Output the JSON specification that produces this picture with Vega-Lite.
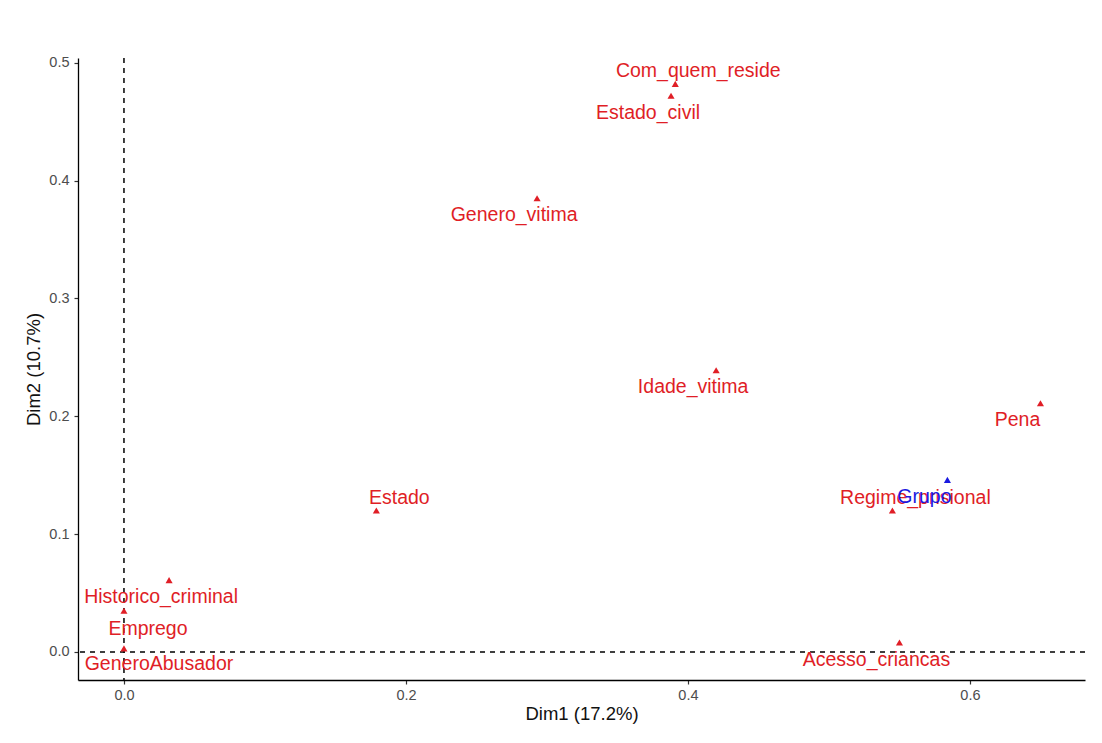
{
  "$schema": "https://vega.github.io/schema/vega-lite/v6.json",
  "autosize": "none",
  "width": 1007,
  "height": 622,
  "padding": {"left": 78, "top": 58, "right": 17, "bottom": 63},
  "background": "white",
  "config": {
    "view": {"stroke": null},
    "font": "Liberation Sans",
    "axis": {
      "grid": false,
      "domainColor": "black",
      "domainWidth": 1.3,
      "tickColor": "#333333",
      "tickSize": 4,
      "tickWidth": 1.2,
      "labelColor": "#4d4d4d",
      "labelFontSize": 14.5,
      "labelFont": "Liberation Sans",
      "titleFont": "Liberation Sans",
      "titleFontSize": 18.5,
      "titleFontWeight": "normal",
      "titleColor": "#111111"
    }
  },
  "datasets": {
    "vars": [
      {"name": "Com_quem_reside", "Dim1": 0.391, "Dim2": 0.482, "grp": "var", "pos": "ur"},
      {"name": "Estado_civil", "Dim1": 0.388, "Dim2": 0.472, "grp": "var", "pos": "dl"},
      {"name": "Genero_vitima", "Dim1": 0.293, "Dim2": 0.385, "grp": "var", "pos": "dl"},
      {"name": "Idade_vitima", "Dim1": 0.42, "Dim2": 0.239, "grp": "var", "pos": "dl"},
      {"name": "Pena", "Dim1": 0.65, "Dim2": 0.211, "grp": "var", "pos": "dl"},
      {"name": "Regime_prisional", "Dim1": 0.545, "Dim2": 0.12, "grp": "var", "pos": "ur"},
      {"name": "Estado", "Dim1": 0.179, "Dim2": 0.12, "grp": "var", "pos": "ur"},
      {"name": "Historico_criminal", "Dim1": 0.032, "Dim2": 0.061, "grp": "var", "pos": "d"},
      {"name": "Emprego", "Dim1": 0.0, "Dim2": 0.035, "grp": "var", "pos": "dr"},
      {"name": "GeneroAbusador", "Dim1": 0.0, "Dim2": 0.003, "grp": "var", "pos": "drr"},
      {"name": "Acesso_criancas", "Dim1": 0.55, "Dim2": 0.008, "grp": "var", "pos": "dl"},
      {"name": "Grupo", "Dim1": 0.584, "Dim2": 0.146, "grp": "sup", "pos": "dl"}
    ],
    "origin": [{"v": 0}]
  },
  "layer": [
    {
      "data": {"name": "origin"},
      "mark": {"type": "rule", "color": "black", "strokeDash": [5, 5], "strokeWidth": 1.5},
      "encoding": {"x": {"field": "v", "type": "quantitative"}}
    },
    {
      "data": {"name": "origin"},
      "mark": {"type": "rule", "color": "black", "strokeDash": [5, 5], "strokeWidth": 1.5},
      "encoding": {"y": {"field": "v", "type": "quantitative"}}
    },
    {
      "data": {"name": "vars"},
      "mark": {"type": "point", "shape": "triangle-up", "filled": true, "size": 50, "opacity": 1},
      "encoding": {
        "x": {
          "field": "Dim1", "type": "quantitative",
          "scale": {"domain": [-0.0326, 0.6816], "nice": false, "zero": false},
          "axis": {"title": "Dim1 (17.2%)", "values": [0, 0.2, 0.4, 0.6], "format": ".1f", "titlePadding": 3, "labelPadding": 4}
        },
        "y": {
          "field": "Dim2", "type": "quantitative",
          "scale": {"domain": [-0.0238, 0.504], "nice": false, "zero": false},
          "axis": {"title": "Dim2 (10.7%)", "values": [0, 0.1, 0.2, 0.3, 0.4, 0.5], "format": ".1f", "titlePadding": 5, "labelPadding": 5}
        },
        "color": {
          "field": "grp", "type": "nominal",
          "scale": {"domain": ["var", "sup"], "range": ["#e01e26", "#1a1ae0"]},
          "legend": null
        }
      }
    },
    {
      "data": {"name": "vars"},
      "transform": [{"filter": "datum.pos === 'ur'"}],
      "mark": {"type": "text", "fontSize": 19.5, "align": "center", "baseline": "middle", "dx": 23, "dy": -13},
      "encoding": {
        "x": {"field": "Dim1", "type": "quantitative"},
        "y": {"field": "Dim2", "type": "quantitative"},
        "text": {"field": "name"},
        "color": {"field": "grp", "type": "nominal"}
      }
    },
    {
      "data": {"name": "vars"},
      "transform": [{"filter": "datum.pos === 'dl'"}],
      "mark": {"type": "text", "fontSize": 19.5, "align": "center", "baseline": "middle", "dx": -23, "dy": 17},
      "encoding": {
        "x": {"field": "Dim1", "type": "quantitative"},
        "y": {"field": "Dim2", "type": "quantitative"},
        "text": {"field": "name"},
        "color": {"field": "grp", "type": "nominal"}
      }
    },
    {
      "data": {"name": "vars"},
      "transform": [{"filter": "datum.pos === 'd'"}],
      "mark": {"type": "text", "fontSize": 19.5, "align": "center", "baseline": "middle", "dx": -8, "dy": 17},
      "encoding": {
        "x": {"field": "Dim1", "type": "quantitative"},
        "y": {"field": "Dim2", "type": "quantitative"},
        "text": {"field": "name"},
        "color": {"field": "grp", "type": "nominal"}
      }
    },
    {
      "data": {"name": "vars"},
      "transform": [{"filter": "datum.pos === 'dr'"}],
      "mark": {"type": "text", "fontSize": 19.5, "align": "center", "baseline": "middle", "dx": 24, "dy": 18},
      "encoding": {
        "x": {"field": "Dim1", "type": "quantitative"},
        "y": {"field": "Dim2", "type": "quantitative"},
        "text": {"field": "name"},
        "color": {"field": "grp", "type": "nominal"}
      }
    },
    {
      "data": {"name": "vars"},
      "transform": [{"filter": "datum.pos === 'drr'"}],
      "mark": {"type": "text", "fontSize": 19.5, "align": "center", "baseline": "middle", "dx": 35, "dy": 16},
      "encoding": {
        "x": {"field": "Dim1", "type": "quantitative"},
        "y": {"field": "Dim2", "type": "quantitative"},
        "text": {"field": "name"},
        "color": {"field": "grp", "type": "nominal"}
      }
    }
  ]
}
